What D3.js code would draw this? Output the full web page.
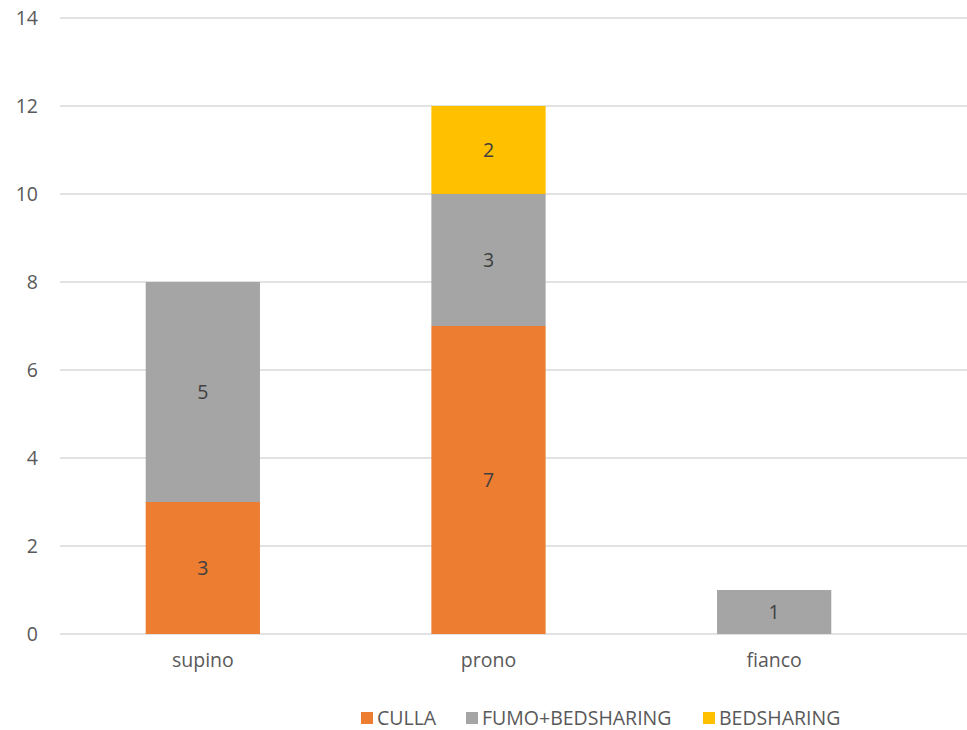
<!DOCTYPE html>
<html>
<head>
<meta charset="utf-8">
<script src="https://cdn.jsdelivr.net/npm/d3@7"></script>
<style>
  body { margin: 0; background: #fff; }
  text { font-family: "Open Sans", "Liberation Sans", sans-serif; }
</style>
</head>
<body>
<script>
'use strict';

// chart data
const categories = ["supino", "prono", "fianco"];
const seriesNames = ["CULLA", "FUMO+BEDSHARING", "BEDSHARING"];
const culla = [3, 7, 0];
const fumoBedsharing = [5, 3, 1];
const bedsharing = [0, 2, 0];
const yTicks = [0, 2, 4, 6, 8, 10, 12, 14];
const colors = ["#ED7D31", "#A5A5A5", "#FFC000"];

(function () {
  const width = 967, height = 730;
  const svg = d3.select('body').append('svg')
    .attr('width', width)
    .attr('height', height);

  // plot area
  const left = 60, right = 917, top = 18, bottom = 634;
  const fontSize = '19.5px';

  const x = d3.scaleBand()
    .domain(categories)
    .range([left, right])
    .paddingInner(0.6)
    .paddingOuter(0.3);

  const y = d3.scaleLinear()
    .domain([0, 14])
    .range([bottom, top]);

  // gridlines
  svg.append('g')
    .selectAll('line')
    .data(yTicks)
    .enter()
    .append('line')
    .attr('x1', left)
    .attr('x2', width)
    .attr('y1', d => y(d))
    .attr('y2', d => y(d))
    .attr('stroke', '#D9D9D9')
    .attr('stroke-width', 1.5);

  // y axis labels
  const yAxis = d3.axisLeft(y).tickValues(yTicks).tickSize(0).tickPadding(0);
  const gy = svg.append('g')
    .attr('transform', 'translate(' + (left - 22) + ',0)')
    .call(yAxis);
  gy.select('.domain').remove();
  gy.selectAll('text')
    .attr('fill', '#595959')
    .style('font-size', fontSize);

  // stacked data
  const rows = categories.map((c, i) => ({
    cat: c,
    CULLA: culla[i],
    "FUMO+BEDSHARING": fumoBedsharing[i],
    BEDSHARING: bedsharing[i]
  }));
  const stacked = d3.stack().keys(seriesNames)(rows);

  const layers = svg.append('g')
    .selectAll('g')
    .data(stacked)
    .enter()
    .append('g')
    .attr('fill', (d, i) => colors[i]);

  layers.selectAll('rect')
    .data(d => d.filter(p => p[1] - p[0] > 0))
    .enter()
    .append('rect')
    .attr('x', d => x(d.data.cat))
    .attr('width', x.bandwidth())
    .attr('y', d => y(d[1]))
    .attr('height', d => y(d[0]) - y(d[1]));

  // data labels
  layers.selectAll('text')
    .data(d => d.filter(p => p[1] - p[0] > 0))
    .enter()
    .append('text')
    .attr('x', d => x(d.data.cat) + x.bandwidth() / 2)
    .attr('y', d => (y(d[0]) + y(d[1])) / 2)
    .attr('dy', '0.35em')
    .attr('text-anchor', 'middle')
    .attr('fill', '#404040')
    .style('font-size', fontSize)
    .text(d => d[1] - d[0]);

  // x axis labels
  const xAxis = d3.axisBottom(x).tickSize(0).tickPadding(0);
  const gx = svg.append('g')
    .attr('transform', 'translate(0,' + (bottom + 19) + ')')
    .call(xAxis);
  gx.select('.domain').remove();
  gx.selectAll('text')
    .attr('fill', '#595959')
    .style('font-size', fontSize);

  // legend
  const legendX = [361, 466, 703];
  const legend = svg.append('g')
    .selectAll('g')
    .data(seriesNames)
    .enter()
    .append('g')
    .attr('transform', (d, i) => 'translate(' + legendX[i] + ',718)');
  legend.append('rect')
    .attr('x', 0)
    .attr('y', -6)
    .attr('width', 12)
    .attr('height', 12)
    .attr('fill', (d, i) => colors[i]);
  legend.append('text')
    .attr('x', 16)
    .attr('y', 0)
    .attr('dy', '0.35em')
    .attr('fill', '#595959')
    .style('font-size', fontSize)
    .text(d => d);
})();
</script>
</body>
</html>
